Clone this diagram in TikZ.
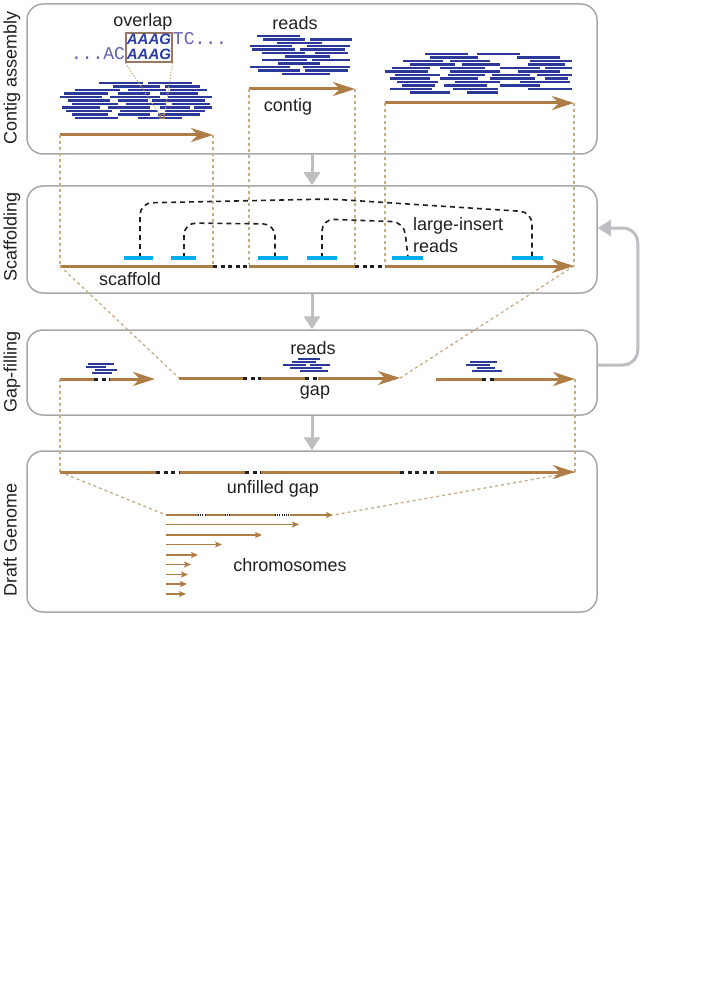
\documentclass[tikz,border=0pt]{standalone}
\usepackage{fontspec}
\setmainfont{Liberation Sans}
\newfontfamily\seqfont{Liberation Mono}
\usetikzlibrary{arrows.meta,calc,positioning}

\definecolor{textblack}{RGB}{35,31,32}
\definecolor{boxgray}{RGB}{165,167,170}
\definecolor{flowgray}{RGB}{188,190,193}
\definecolor{contigbrown}{RGB}{176,124,70}
\definecolor{readblue}{RGB}{43,57,155}
\definecolor{seqblue}{RGB}{95,95,180}
\definecolor{seqdark}{RGB}{40,58,165}
\definecolor{barcyan}{RGB}{0,174,239}
\definecolor{linktan}{RGB}{200,172,132}
\definecolor{ovbrown}{RGB}{150,120,100}

\tikzset{
  stage/.style     = {draw=boxgray, line width=1.5pt, rounded corners=16pt,
                      rectangle, inner sep=0pt, minimum width=570pt},
  stagename/.style = {rotate=90, anchor=base, inner sep=0pt, text=textblack,
                      font=\fontsize{18}{20}\selectfont},
  tag/.style       = {anchor=base, inner sep=0pt, text=textblack,
                      font=\fontsize{18}{20}\selectfont},
  seqbold/.style   = {anchor=base, inner sep=0pt, text=seqdark,
                      font=\fontsize{15}{15}\selectfont\bfseries\itshape},
  seqmono/.style   = {inner sep=0pt, text=seqblue,
                      font=\fontsize{18}{18}\selectfont\seqfont},
  read/.style      = {draw=readblue, line width=2.2pt},
  fillread/.style  = {draw=readblue, line width=1.6pt},
  contig/.style    = {draw=contigbrown, line width=3pt,
                      -{Stealth[length=22pt,width=14pt,inset=7pt]}},
  chrom/.style     = {draw=contigbrown, line width=1.7pt,
                      -{Stealth[length=7pt,width=6pt,inset=1.5pt]}},
  gapdots/.style   = {draw=textblack, line width=3pt, dash pattern=on 4pt off 3.5pt,
                      preaction={draw=white, solid, line width=3.6pt}},
  minigap/.style   = {draw=textblack, line width=1.7pt, dash pattern=on 1pt off 1.2pt,
                      preaction={draw=white, solid, line width=2.2pt}},
  link/.style      = {draw=linktan, line width=1.3pt, dash pattern=on 3pt off 3pt},
  zoomlink/.style  = {draw=linktan, line width=1pt, dash pattern=on 1.5pt off 1.5pt},
  pair/.style      = {draw=textblack, line width=1.6pt, dash pattern=on 5pt off 4pt,
                      rounded corners=12pt},
  bar/.style       = {draw=barcyan, line width=4pt},
  flow/.style      = {draw=flowgray, line width=3pt,
                      -{Triangle[length=13pt,width=16pt]}}
}

\begin{document}
\begin{tikzpicture}[x=1pt, y=-1pt]
\useasboundingbox (0,0) rectangle (720,1003);

% the four stages
\node[stage, minimum height=150pt] (s1) at (312,79) {};
\node[stage, minimum height=107pt] (s2) at (312,239.5) {};
\node[stage, minimum height=85pt]  (s3) at (312,372.5) {};
\node[stage, minimum height=161pt] (s4) at (312,531.5) {};

\node[stagename] (n1) at (16.5,78)  {Contig assembly};
\node[stagename] (n2) at (16.5,237) {Scaffolding};
\node[stagename] (n3) at (16.5,372) {Gap-filling};
\node[stagename] (n4) at (16.5,540) {Draft Genome};

% flow between the stages
\draw[flow] (s1) -- (s2);
\draw[flow] (s2) -- (s3);
\draw[flow] (s3) -- (s4);
\draw[flow, rounded corners=15pt] ([yshift=7.5pt]s3.east) -- ++(40pt,0)
  |- ([yshift=11.5pt]s2.east);

% contig assembly: reads piled up into contigs
\foreach \y/\xa/\xb in {83/99/143, 83/148/192, 86.5/113/160, 86.5/165/200,
  90/75/120, 90/128/166, 90/170/207, 93.5/64/108, 93.5/118/150, 93.5/160/198,
  97/60/102, 97/110/160, 97/168/212, 100.5/68/110, 100.5/118/148, 100.5/152/205,
  104/72/118, 104/126/166, 104/172/210, 107.5/62/100, 107.5/108/150,
  107.5/160/190, 107.5/194/212, 111/66/112, 111/120/158, 111/165/205,
  114.5/72/108, 114.5/118/150, 114.5/158/200, 118/75/118, 118/138/182}
  \draw[read] (\xa,\y) -- (\xb,\y);

\foreach \y/\xa/\xb in {36/257/300, 39.5/263/305, 39.5/310/352, 43/277/322,
  46/250/292, 46/307/350, 49.5/252/295, 49.5/300/345, 53/262/305, 53/315/348,
  56.5/285/330, 60/262/307, 60/312/350, 63.5/278/320, 67/250/290, 67/303/350,
  70.5/258/300, 70.5/305/348, 74/282/330}
  \draw[read] (\xa,\y) -- (\xb,\y);

\foreach \y/\xa/\xb in {54/425/468, 54/477/520, 57.5/430/478, 57.5/517/560,
  61/403/443, 61/450/490, 61/530/572, 64.5/410/455, 64.5/462/500, 64.5/528/565,
  68/392/430, 68/440/485, 68/500/540, 68/545/572, 71.5/385/428, 71.5/450/500,
  71.5/518/560, 75/395/440, 75/448/485, 75/492/530, 75/537/572, 78.5/390/430,
  78.5/440/478, 78.5/490/535, 78.5/545/568, 82/397/438, 82/455/500, 82/520/570,
  85.5/402/435, 85.5/444/487, 85.5/500/540, 89/390/432, 89/453/498, 89/528/572,
  92.5/410/450, 92.5/467/498}
  \draw[read] (\xa,\y) -- (\xb,\y);

\coordinate (a1) at (60,135);  \coordinate (b1) at (213,135);
\coordinate (a2) at (249,89);  \coordinate (b2) at (355,89);
\coordinate (a3) at (385,103); \coordinate (b3) at (574,103);
\draw[contig] (a1) -- (b1);
\draw[contig] (a2) -- (b2);
\draw[contig] (a3) -- (b3);

% the overlap of two reads
\node[draw=ovbrown, line width=1.5pt, minimum width=46pt, minimum height=29pt,
  inner sep=0pt] (ov) at (149,47.5) {};
\node[seqbold] (ovt) at (149,45) {AAAG};
\node[seqbold] (ovb) at (149,60) {AAAG};
\node[seqmono, anchor=base west] (ovr) at (ov.east |- ovt.base) {TC...};
\node[seqmono, anchor=base east] (ovl) at (ov.west |- ovb.base) {...AC};
\node[draw=ovbrown, line width=1.2pt, minimum size=4pt, inner sep=0pt] (sq)
  at (162,116.5) {};
\draw[zoomlink] (ov.south west) -- (sq.north west);
\draw[zoomlink] (ov.south east) -- (sq.north east);

\node[tag] (l1) at (143,27)  {overlap};
\node[tag] (l2) at (295,30)  {reads};
\node[tag] (l3) at (288,112) {contig};

% scaffolding: contigs ordered by large-insert read pairs
\coordinate (sa) at (60,266);
\coordinate (sb) at (b3 |- sa);
\foreach \c in {a1,b1,a2,b2,a3,b3}
  \draw[link] (\c) -- (\c |- sa);

\draw[pair] (140,258) -- (140,203) -- (330,199) -- (532,212) -- (532,258);
\draw[pair] (184,258) -- (184,223) -- (275,224) -- (275,258);
\draw[pair] (322,258) -- (322,219) -- (404,222) -- (408,258);
\foreach \xa/\xb in {124/153, 171/196, 258/288, 307/337, 392/423, 512/543}
  \draw[bar] (\xa,258) -- (\xb,258);

\draw[contig] (sa) -- (sb);
\draw[gapdots] (b1 |- sa) -- (a2 |- sa);
\draw[gapdots] (b2 |- sa) -- (a3 |- sa);

\node[tag, anchor=base west] (l4) at (413,230) {large-insert};
\node[tag, anchor=base west] (l5) at (413,252) {reads};
\node[tag] (l6) at (130,285) {scaffold};

% gap-filling: reads mapped into the gaps
\coordinate (g1a) at (60,379);  \coordinate (g1b) at (155,379);
\coordinate (g2a) at (179,378); \coordinate (g2b) at (400,378);
\coordinate (g3a) at (436,379); \coordinate (g3b) at (575,379);
\draw[link] (sa) -- (g2a);
\draw[link] (sb) -- (g2b);

\foreach \y/\xa/\xb in {364/88/114, 367/86/106, 370/95/117, 373/92/112,
  359/298/320, 362/292/316, 365/283/306, 365/310/330, 368/290/322,
  371/300/328,
  362/470/497, 365/466/490, 368/477/495, 371/472/502}
  \draw[fillread] (\xa,\y) -- (\xb,\y);

\draw[contig] (g1a) -- (g1b);
\draw[contig] (g2a) -- (g2b);
\draw[contig] (g3a) -- (g3b);
\draw[gapdots] (94,379) -- (110,379);
\draw[gapdots] (243,378) -- (261,378);
\draw[gapdots] (305,378) -- (318,378);
\draw[gapdots] (482,379) -- (494,379);

\node[tag] (l7) at (313,354) {reads};
\node[tag] (l8) at (315,395) {gap};

% draft genome: scaffolds with unfilled gaps, sorted by length
\coordinate (da) at (60,472);   \coordinate (db) at (575,472);
\coordinate (k1s) at (166,515); \coordinate (k1e) at (333,515);
\draw[link] (g1a) -- (da);
\draw[link] (g3b) -- (db);
\draw[link] (da) -- (k1s);
\draw[link] (db) -- (k1e);

\draw[contig] (da) -- (db);
\draw[gapdots] (156,472) -- (179,472);
\draw[gapdots] (245,472) -- (261,472);
\draw[gapdots] (400,472) -- (437,472);

\draw[chrom] (k1s) -- (k1e);
\foreach \xa/\xb in {198/205, 225/230, 275/290}
  \draw[minigap] (\xa,515) -- (\xb,515);
\foreach \y/\xe in {524.5/299, 535/262, 544.5/222, 555/198, 564.5/191,
  574.5/188, 584/187, 594/186}
  \draw[chrom] (166,\y) -- (\xe,\y);

\node[tag] (l9)  at (273,493) {unfilled gap};
\node[tag] (l10) at (290,571) {chromosomes};
\end{tikzpicture}
\end{document}
